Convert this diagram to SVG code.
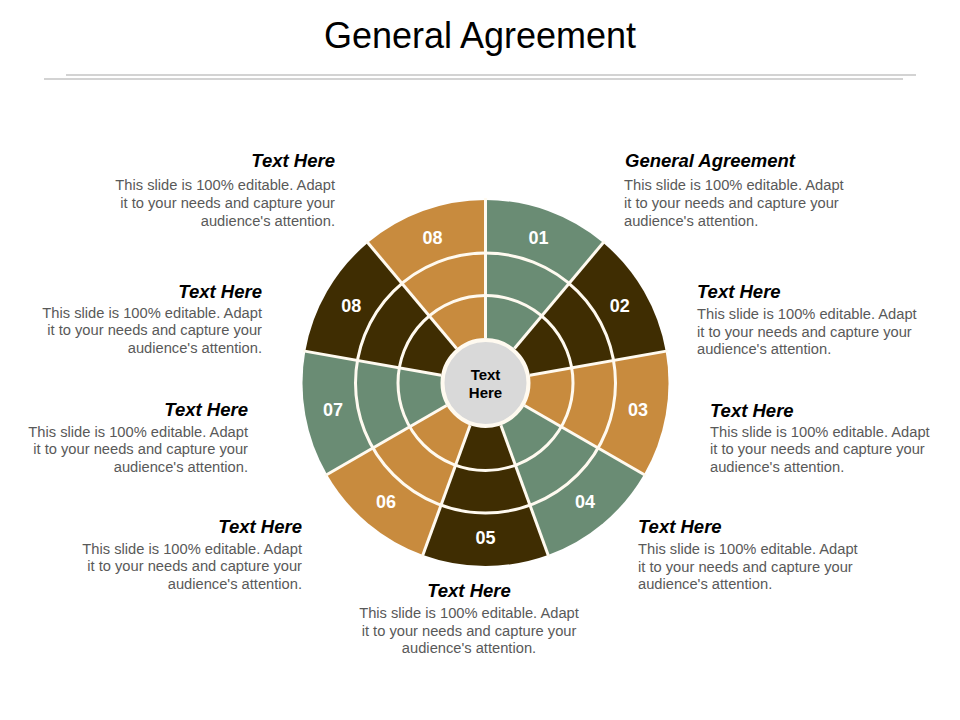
<svg xmlns="http://www.w3.org/2000/svg" width="960" height="720" viewBox="0 0 960 720">
<style>
.bg{fill:#ffffff}
.title{font-family:"Liberation Sans",Arial,sans-serif;font-size:36px;fill:#000000}
.hd{font-family:"Liberation Sans",Arial,sans-serif;font-size:18.5px;font-weight:bold;font-style:italic;fill:#000000}
.bd{font-family:"Liberation Sans",Arial,sans-serif;font-size:14.7px;fill:#595959}
.r{text-anchor:end}
.m{text-anchor:middle}
.num{font-family:"Liberation Sans",Arial,sans-serif;font-size:18px;font-weight:bold;fill:#ffffff;text-anchor:middle}
.green{fill:#6A8C74}
.dark{fill:#3F2D02}
.orange{fill:#C88B3E}
.sep{stroke:#FFFAF0;stroke-width:3;fill:none}
.rule{stroke:#D3D3D3;stroke-width:2.2}
.hub{fill:#D9D9D9;stroke:#FFFAF0;stroke-width:4}
.hubt{font-family:"Liberation Sans",Arial,sans-serif;font-size:15px;font-weight:bold;fill:#000000;text-anchor:middle}
</style>
<rect class="bg" x="0" y="0" width="960" height="720"/>

<g id="header">
  <text class="title" x="480" y="48" text-anchor="middle">General Agreement</text>
  <line class="rule" x1="66" y1="75" x2="916" y2="75"/>
  <line class="rule" x1="44" y1="79" x2="903" y2="79"/>
</g>

<g id="wheel">
  <g id="seg-01">
    <path class="green" d="M485.5 383 L485.5 200 A183 183 0 0 1 603.13 242.81 Z"/>
    <text class="num" x="538.5" y="243.8">01</text>
  </g>
  <g id="seg-02">
    <path class="dark" d="M485.5 383 L603.13 242.81 A183 183 0 0 1 665.72 351.22 Z"/>
    <text class="num" x="619.7" y="311.8">02</text>
  </g>
  <g id="seg-03">
    <path class="orange" d="M485.5 383 L665.72 351.22 A183 183 0 0 1 643.98 474.5 Z"/>
    <text class="num" x="638.1" y="416.2">03</text>
  </g>
  <g id="seg-04">
    <path class="green" d="M485.5 383 L643.98 474.5 A183 183 0 0 1 548.09 554.96 Z"/>
    <text class="num" x="585.1" y="508">04</text>
  </g>
  <g id="seg-05">
    <path class="dark" d="M485.5 383 L548.09 554.96 A183 183 0 0 1 422.91 554.96 Z"/>
    <text class="num" x="485.5" y="544.3">05</text>
  </g>
  <g id="seg-06">
    <path class="orange" d="M485.5 383 L422.91 554.96 A183 183 0 0 1 327.02 474.5 Z"/>
    <text class="num" x="385.9" y="508">06</text>
  </g>
  <g id="seg-07">
    <path class="green" d="M485.5 383 L327.02 474.5 A183 183 0 0 1 305.28 351.22 Z"/>
    <text class="num" x="332.9" y="416.2">07</text>
  </g>
  <g id="seg-08a">
    <path class="dark" d="M485.5 383 L305.28 351.22 A183 183 0 0 1 367.87 242.81 Z"/>
    <text class="num" x="351.3" y="311.8">08</text>
  </g>
  <g id="seg-08b">
    <path class="orange" d="M485.5 383 L367.87 242.81 A183 183 0 0 1 485.5 200 Z"/>
    <text class="num" x="432.5" y="243.8">08</text>
  </g>
</g>

<g id="separators">
  <circle class="sep" cx="485.5" cy="383" r="87.5"/>
  <circle class="sep" cx="485.5" cy="383" r="130"/>
  <line class="sep" x1="485.5" y1="338" x2="485.5" y2="198"/>
  <line class="sep" x1="514.43" y1="348.53" x2="604.42" y2="241.28"/>
  <line class="sep" x1="529.82" y1="375.19" x2="667.69" y2="350.87"/>
  <line class="sep" x1="524.47" y1="405.5" x2="645.71" y2="475.5"/>
  <line class="sep" x1="500.89" y1="425.29" x2="548.77" y2="556.84"/>
  <line class="sep" x1="470.11" y1="425.29" x2="422.23" y2="556.84"/>
  <line class="sep" x1="446.53" y1="405.5" x2="325.29" y2="475.5"/>
  <line class="sep" x1="441.18" y1="375.19" x2="303.31" y2="350.87"/>
  <line class="sep" x1="456.57" y1="348.53" x2="366.58" y2="241.28"/>
</g>

<g id="hub">
  <circle class="hub" cx="485.5" cy="383" r="43"/>
  <text class="hubt" x="485.5" y="379.5">Text</text>
  <text class="hubt" x="485.5" y="398">Here</text>
</g>

<g id="note-top-left">
  <text class="hd r" x="335" y="167">Text Here</text>
  <text class="bd r" x="335" y="190">This slide is 100% editable. Adapt</text>
  <text class="bd r" x="335" y="208">it to your needs and capture your</text>
  <text class="bd r" x="335" y="225.5">audience's attention.</text>
</g>
<g id="note-left-2">
  <text class="hd r" x="262" y="297.7">Text Here</text>
  <text class="bd r" x="262" y="317.5">This slide is 100% editable. Adapt</text>
  <text class="bd r" x="262" y="335.3">it to your needs and capture your</text>
  <text class="bd r" x="262" y="353">audience's attention.</text>
</g>
<g id="note-left-3">
  <text class="hd r" x="248" y="416">Text Here</text>
  <text class="bd r" x="248" y="436.7">This slide is 100% editable. Adapt</text>
  <text class="bd r" x="248" y="454.3">it to your needs and capture your</text>
  <text class="bd r" x="248" y="471.7">audience's attention.</text>
</g>
<g id="note-left-4">
  <text class="hd r" x="302" y="533.3">Text Here</text>
  <text class="bd r" x="302" y="553.8">This slide is 100% editable. Adapt</text>
  <text class="bd r" x="302" y="571.3">it to your needs and capture your</text>
  <text class="bd r" x="302" y="588.8">audience's attention.</text>
</g>
<g id="note-bottom">
  <text class="hd m" x="469" y="596.7">Text Here</text>
  <text class="bd m" x="469" y="618.3">This slide is 100% editable. Adapt</text>
  <text class="bd m" x="469" y="635.8">it to your needs and capture your</text>
  <text class="bd m" x="469" y="653.3">audience's attention.</text>
</g>
<g id="note-top-right">
  <text class="hd" x="625" y="167">General Agreement</text>
  <text class="bd" x="624" y="190">This slide is 100% editable. Adapt</text>
  <text class="bd" x="624" y="208">it to your needs and capture your</text>
  <text class="bd" x="624" y="225.5">audience's attention.</text>
</g>
<g id="note-right-2">
  <text class="hd" x="697" y="297.5">Text Here</text>
  <text class="bd" x="697" y="318.5">This slide is 100% editable. Adapt</text>
  <text class="bd" x="697" y="336.5">it to your needs and capture your</text>
  <text class="bd" x="697" y="354">audience's attention.</text>
</g>
<g id="note-right-3">
  <text class="hd" x="710" y="416.5">Text Here</text>
  <text class="bd" x="710" y="436.7">This slide is 100% editable. Adapt</text>
  <text class="bd" x="710" y="454.3">it to your needs and capture your</text>
  <text class="bd" x="710" y="471.5">audience's attention.</text>
</g>
<g id="note-right-4">
  <text class="hd" x="638" y="533.3">Text Here</text>
  <text class="bd" x="638" y="554">This slide is 100% editable. Adapt</text>
  <text class="bd" x="638" y="571.5">it to your needs and capture your</text>
  <text class="bd" x="638" y="588.5">audience's attention.</text>
</g>
</svg>
